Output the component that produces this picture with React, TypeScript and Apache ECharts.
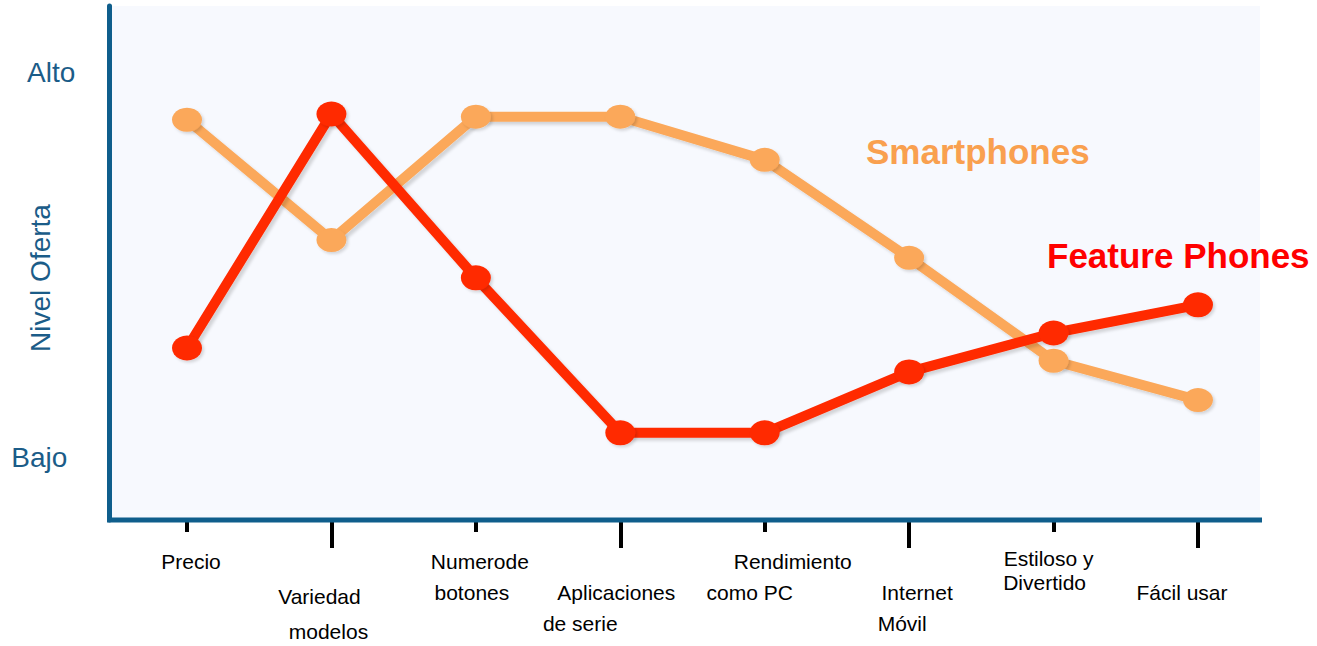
import React, { useEffect, useRef } from "react";
import * as echarts from "echarts";

const categories = [
  "Precio",
  "Variedad\nmodelos",
  "Numerode\nbotones",
  "Aplicaciones\nde serie",
  "Rendimiento\ncomo PC",
  "Internet\nMóvil",
  "Estiloso y\nDivertido",
  "Fácil usar",
];
const smartphones = [8.77, 5.65, 8.85, 8.85, 7.73, 5.19, 2.52, 1.5];
const featurePhones = [2.85, 8.92, 4.67, 0.65, 0.65, 2.23, 3.24, 3.97];
const yTickValues = [0, 10];
const yTickLabels = ["Bajo", "Alto"];
const seriesNames = ["Smartphones", "Feature Phones"];
const yAxisName = "Nivel Oferta";

const FONT = "'Liberation Sans', Arial, sans-serif";
const AXIS_BLUE = "#0F5E8C";
const LABEL_BLUE = "#1B5C88";
const ORANGE = "#FBA85A";
const RED = "#FF2A00";
const X_FONT = 21;

// horizontal nudges (px) of each label line, to mimic the reference's ragged layout
const LINE_SHIFTS: number[][] = [
  [4],
  [-12, -3],
  [4, -4],
  [-4, -40],
  [28, -15],
  [8, -7],
  [-5, -9],
  [-16],
];

function buildRich() {
  const rich: Record<string, any> = {};
  LINE_SHIFTS.forEach((shifts, i) => {
    shifts.forEach((s, j) => {
      rich["l" + i + "_" + j] = {
        fontSize: X_FONT,
        fontFamily: FONT,
        color: "#000",
        lineHeight: i === 6 ? 24 : i === 1 && j === 0 ? 39 : 31,
        padding: [0, Math.max(0, -2 * s), 0, Math.max(0, 2 * s)],
      };
    });
  });
  return rich;
}

export default function App() {
  const ref = useRef<HTMLDivElement>(null);
  useEffect(() => {
    if (!ref.current) return;
    const chart = echarts.init(ref.current, undefined, { renderer: "svg" });
    const tickStyle = { color: "#000", width: 4 };
    chart.setOption({
      animation: false,
      grid: {
        left: 114.8,
        top: 6,
        width: 1155.4,
        height: 514,
        containLabel: false,
        outerBoundsMode: "none",
      },
      xAxis: [
        {
          type: "category",
          data: categories,
          boundaryGap: true,
          position: "bottom",
          axisLine: { show: false, onZero: false },
          axisTick: {
            show: true,
            alignWithLabel: true,
            length: 12,
            interval: (i: number) => i % 2 === 0,
            lineStyle: tickStyle,
          },
          axisLabel: {
            interval: 0,
            margin: 26,
            color: "#000",
            fontSize: X_FONT,
            fontFamily: FONT,
            lineHeight: 31,
            formatter: (value: string, index: number) => {
              const body = value
                .split("\n")
                .map((l, j) => "{l" + index + "_" + j + "|" + l + "}")
                .join("\n");
              return index % 2 === 1 ? "\n" + body : body;
            },
            rich: buildRich(),
          },
          splitLine: { show: false },
        },
        {
          type: "category",
          data: categories,
          boundaryGap: true,
          position: "bottom",
          axisLine: { show: false, onZero: false },
          axisTick: {
            show: true,
            alignWithLabel: true,
            length: 28,
            interval: (i: number) => i % 2 === 1,
            lineStyle: tickStyle,
          },
          axisLabel: { show: false },
          splitLine: { show: false },
        },
      ],
      yAxis: {
        type: "value",
        min: -1.61,
        max: 11.72,
        offset: 5.5,
        name: yAxisName,
        nameLocation: "middle",
        nameRotate: 90,
        nameGap: 55,
        nameMoveOverlap: false,
        nameTextStyle: {
          fontSize: 28,
          fontFamily: FONT,
          color: LABEL_BLUE,
          padding: [0, 30, 0, 0],
        },
        axisLine: { show: true, lineStyle: { color: AXIS_BLUE, width: 5 } },
        axisTick: { show: false },
        splitLine: { show: false },
        axisLabel: {
          customValues: yTickValues,
          margin: 34,
          fontSize: 28,
          fontFamily: FONT,
          color: LABEL_BLUE,
          formatter: (v: number) => {
            const i = yTickValues.indexOf(v);
            const t = i >= 0 ? yTickLabels[i] : "";
            return i === 0 ? "{b|" + t + "}" : t;
          },
          rich: {
            b: { fontSize: 28, fontFamily: FONT, color: LABEL_BLUE, padding: [0, 8, 0, 0] },
          },
        },
      },
      graphic: [
        {
          type: "rect",
          z: -10,
          shape: { x: 111, y: 6, width: 1149, height: 514 },
          style: { fill: "#F7F9FE" },
          silent: true,
        },
        {
          type: "line",
          z: 1,
          shape: { x1: 107, y1: 520, x2: 1262, y2: 520 },
          style: { stroke: AXIS_BLUE, lineWidth: 5 },
          silent: true,
        },
        {
          type: "text",
          x: 866,
          y: 151,
          z: 5,
          style: {
            text: seriesNames[0],
            fill: "#F9A04F",
            fontSize: 35,
            fontWeight: "bold",
            fontFamily: FONT,
            verticalAlign: "middle",
          },
        },
        {
          type: "text",
          x: 1047,
          y: 255,
          z: 5,
          style: {
            text: seriesNames[1],
            fill: "#FF0000",
            fontSize: 35,
            fontWeight: "bold",
            fontFamily: FONT,
            verticalAlign: "middle",
          },
        },
      ],
      series: [
        {
          name: seriesNames[0],
          type: "line",
          data: smartphones,
          symbol: "circle",
          symbolSize: [30, 24],
          lineStyle: {
            color: ORANGE,
            width: 10,
            shadowColor: "rgba(0,0,0,0.15)",
            shadowBlur: 3,
            shadowOffsetX: 3,
            shadowOffsetY: 3,
          },
          itemStyle: {
            color: ORANGE,
            shadowColor: "rgba(0,0,0,0.15)",
            shadowBlur: 3,
            shadowOffsetX: 2,
            shadowOffsetY: 2,
          },
          z: 3,
        },
        {
          name: seriesNames[1],
          type: "line",
          data: featurePhones,
          symbol: "circle",
          symbolSize: [30, 25],
          lineStyle: {
            color: RED,
            width: 10,
            shadowColor: "rgba(0,0,0,0.15)",
            shadowBlur: 3,
            shadowOffsetX: 3,
            shadowOffsetY: 3,
          },
          itemStyle: {
            color: RED,
            shadowColor: "rgba(0,0,0,0.15)",
            shadowBlur: 3,
            shadowOffsetX: 2,
            shadowOffsetY: 2,
          },
          z: 4,
        },
      ],
    });
    return () => chart.dispose();
  }, []);
  return (
    <div
      ref={ref}
      style={{ position: "absolute", left: 0, top: 0, width: 1317, height: 646 }}
    />
  );
}
